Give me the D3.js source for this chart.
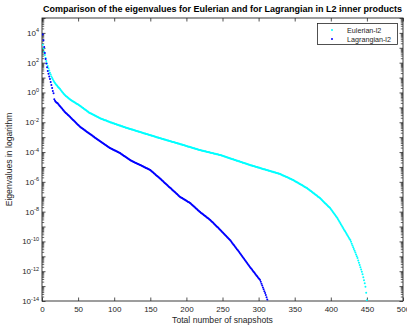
<!DOCTYPE html>
<html>
<head>
<meta charset="utf-8">
<script src="https://cdn.jsdelivr.net/npm/d3@7"></script>
<style>
  html, body { margin: 0; padding: 0; background: #fff; }
  svg { display: block; font-family: "Liberation Sans", Arial, Helvetica, sans-serif; }
</style>
</head>
<body>
<svg id="chart" width="407" height="325"></svg>
<script>
// log10 of the eigenvalues, index 1..N
const eulerianLog = [
  3.20,2.95,2.72,2.52,2.32,2.12,1.95,1.78,1.62,1.47,1.33,1.20,1.08,0.97,0.88,0.79,0.71,0.63,0.57,0.51,
  0.45,0.39,0.33,0.28,0.23,0.16,0.10,0.04,-0.02,-0.08,-0.13,-0.18,-0.23,-0.27,-0.31,-0.35,-0.39,-0.43,-0.47,-0.51,
  -0.54,-0.57,-0.60,-0.63,-0.66,-0.69,-0.72,-0.75,-0.78,-0.81,-0.84,-0.87,-0.91,-0.95,-0.98,-1.02,-1.05,-1.09,-1.13,-1.16,
  -1.20,-1.23,-1.27,-1.30,-1.34,-1.37,-1.40,-1.42,-1.45,-1.47,-1.50,-1.52,-1.55,-1.57,-1.60,-1.62,-1.65,-1.67,-1.70,-1.72,
  -1.74,-1.76,-1.78,-1.80,-1.82,-1.84,-1.86,-1.87,-1.89,-1.91,-1.93,-1.95,-1.97,-1.99,-2.01,-2.02,-2.04,-2.06,-2.07,-2.09,
  -2.11,-2.12,-2.14,-2.16,-2.17,-2.19,-2.21,-2.22,-2.24,-2.26,-2.27,-2.29,-2.31,-2.32,-2.34,-2.36,-2.37,-2.39,-2.40,-2.42,
  -2.43,-2.45,-2.46,-2.48,-2.49,-2.51,-2.52,-2.54,-2.55,-2.57,-2.58,-2.60,-2.61,-2.63,-2.64,-2.66,-2.67,-2.69,-2.70,-2.72,
  -2.73,-2.75,-2.76,-2.78,-2.79,-2.81,-2.82,-2.84,-2.85,-2.87,-2.88,-2.90,-2.91,-2.93,-2.94,-2.96,-2.97,-2.99,-3.00,-3.02,
  -3.03,-3.05,-3.06,-3.07,-3.09,-3.10,-3.12,-3.13,-3.15,-3.16,-3.17,-3.19,-3.20,-3.22,-3.23,-3.25,-3.26,-3.27,-3.29,-3.30,
  -3.32,-3.33,-3.35,-3.36,-3.37,-3.39,-3.40,-3.42,-3.43,-3.45,-3.46,-3.47,-3.49,-3.50,-3.52,-3.53,-3.55,-3.56,-3.58,-3.59,
  -3.61,-3.62,-3.64,-3.65,-3.66,-3.68,-3.69,-3.71,-3.72,-3.74,-3.75,-3.77,-3.78,-3.80,-3.81,-3.83,-3.84,-3.86,-3.87,-3.88,
  -3.89,-3.91,-3.92,-3.93,-3.94,-3.95,-3.97,-3.98,-3.99,-4.00,-4.01,-4.02,-4.04,-4.05,-4.06,-4.07,-4.08,-4.09,-4.11,-4.12,
  -4.13,-4.14,-4.15,-4.16,-4.18,-4.19,-4.20,-4.22,-4.23,-4.25,-4.27,-4.28,-4.30,-4.32,-4.33,-4.35,-4.36,-4.38,-4.40,-4.41,
  -4.43,-4.45,-4.46,-4.48,-4.49,-4.51,-4.53,-4.54,-4.56,-4.58,-4.59,-4.61,-4.62,-4.64,-4.66,-4.67,-4.69,-4.71,-4.72,-4.74,
  -4.75,-4.77,-4.79,-4.80,-4.82,-4.84,-4.85,-4.87,-4.88,-4.90,-4.91,-4.93,-4.94,-4.96,-4.97,-4.99,-5.00,-5.01,-5.03,-5.04,
  -5.06,-5.07,-5.09,-5.10,-5.12,-5.13,-5.15,-5.16,-5.17,-5.19,-5.20,-5.22,-5.23,-5.25,-5.26,-5.28,-5.29,-5.30,-5.32,-5.33,
  -5.35,-5.36,-5.38,-5.39,-5.41,-5.42,-5.43,-5.45,-5.46,-5.48,-5.50,-5.52,-5.55,-5.57,-5.59,-5.61,-5.64,-5.66,-5.68,-5.70,
  -5.72,-5.75,-5.77,-5.79,-5.81,-5.84,-5.86,-5.88,-5.91,-5.94,-5.97,-5.99,-6.02,-6.05,-6.08,-6.11,-6.14,-6.17,-6.19,-6.22,
  -6.25,-6.28,-6.31,-6.34,-6.36,-6.39,-6.42,-6.46,-6.49,-6.53,-6.57,-6.61,-6.64,-6.68,-6.72,-6.76,-6.79,-6.83,-6.87,-6.90,
  -6.94,-6.98,-7.02,-7.05,-7.09,-7.14,-7.19,-7.23,-7.28,-7.33,-7.38,-7.43,-7.47,-7.52,-7.57,-7.62,-7.67,-7.71,-7.76,-7.83,
  -7.89,-7.96,-8.03,-8.10,-8.16,-8.23,-8.30,-8.36,-8.43,-8.51,-8.60,-8.68,-8.77,-8.85,-8.93,-9.02,-9.10,-9.18,-9.26,-9.34,
  -9.42,-9.50,-9.59,-9.67,-9.75,-9.83,-9.91,-10.03,-10.15,-10.27,-10.39,-10.51,-10.63,-10.75,-10.87,-10.99,-11.12,-11.28,-11.43,-11.58,
  -11.74,-11.89,-12.04,-12.20,-12.40,-12.60,-12.80,-13.05,-13.45,-13.95
];

const lagrangianLog = [
  3.90,3.50,3.05,2.65,2.25,1.95,1.70,1.45,1.25,1.08,0.90,0.70,0.50,0.30,0.10,-0.05,-0.45,-0.55,-0.62,-0.67,
  -0.71,-0.74,-0.80,-0.87,-0.93,-0.98,-1.04,-1.10,-1.16,-1.21,-1.27,-1.32,-1.37,-1.42,-1.46,-1.51,-1.55,-1.60,-1.65,-1.70,
  -1.74,-1.79,-1.84,-1.89,-1.94,-1.98,-2.03,-2.08,-2.13,-2.18,-2.22,-2.27,-2.32,-2.35,-2.39,-2.42,-2.46,-2.49,-2.53,-2.56,
  -2.60,-2.63,-2.67,-2.70,-2.74,-2.77,-2.81,-2.84,-2.88,-2.91,-2.95,-2.98,-3.02,-3.05,-3.09,-3.12,-3.16,-3.19,-3.23,-3.26,
  -3.29,-3.33,-3.36,-3.39,-3.43,-3.46,-3.50,-3.53,-3.56,-3.60,-3.63,-3.66,-3.70,-3.73,-3.75,-3.78,-3.80,-3.83,-3.85,-3.88,
  -3.90,-3.92,-3.95,-3.97,-4.00,-4.02,-4.05,-4.07,-4.10,-4.14,-4.17,-4.20,-4.24,-4.27,-4.30,-4.34,-4.37,-4.40,-4.44,-4.47,
  -4.50,-4.54,-4.56,-4.59,-4.61,-4.63,-4.66,-4.68,-4.71,-4.73,-4.75,-4.78,-4.80,-4.82,-4.85,-4.87,-4.89,-4.92,-4.94,-4.97,
  -4.99,-5.02,-5.04,-5.07,-5.09,-5.11,-5.14,-5.16,-5.19,-5.21,-5.25,-5.29,-5.34,-5.38,-5.42,-5.46,-5.50,-5.55,-5.59,-5.63,
  -5.67,-5.71,-5.76,-5.80,-5.84,-5.89,-5.93,-5.98,-6.02,-6.07,-6.11,-6.16,-6.20,-6.25,-6.29,-6.34,-6.38,-6.42,-6.47,-6.51,
  -6.56,-6.60,-6.65,-6.69,-6.74,-6.78,-6.82,-6.87,-6.91,-6.96,-7.00,-7.03,-7.06,-7.09,-7.12,-7.15,-7.18,-7.21,-7.24,-7.27,
  -7.30,-7.33,-7.36,-7.39,-7.42,-7.46,-7.51,-7.55,-7.59,-7.64,-7.68,-7.72,-7.77,-7.81,-7.86,-7.90,-7.94,-7.99,-8.03,-8.07,
  -8.11,-8.14,-8.18,-8.22,-8.26,-8.29,-8.33,-8.37,-8.41,-8.45,-8.48,-8.52,-8.56,-8.61,-8.66,-8.70,-8.75,-8.80,-8.85,-8.90,
  -8.94,-8.99,-9.04,-9.09,-9.14,-9.18,-9.23,-9.28,-9.33,-9.38,-9.43,-9.48,-9.53,-9.58,-9.63,-9.68,-9.73,-9.78,-9.83,-9.88,
  -9.94,-10.01,-10.07,-10.14,-10.20,-10.26,-10.33,-10.39,-10.46,-10.52,-10.58,-10.65,-10.71,-10.78,-10.85,-10.91,-10.98,-11.05,-11.11,-11.18,
  -11.25,-11.32,-11.38,-11.45,-11.52,-11.58,-11.65,-11.72,-11.78,-11.84,-11.90,-11.97,-12.03,-12.09,-12.15,-12.22,-12.28,-12.34,-12.40,-12.47,
  -12.53,-12.59,-12.71,-12.84,-12.96,-13.09,-13.21,-13.34,-13.46,-13.60,-13.75,-13.90,-14.05
];

const xTicks = [0, 50, 100, 150, 200, 250, 300, 350, 400, 450, 500];
const yLabelExps = [4, 2, 0, -2, -4, -6, -8, -10, -12, -14];
const seriesNames = ["Eulerian-l2", "Lagrangian-l2"];
const seriesColors = ["#00ffff", "#0000ff"];

const titleText = "Comparison of the eigenvalues for Eulerian and for Lagrangian in L2 inner products";
const xLabelText = "Total number of snapshots";
const yLabelText = "Eigenvalues in logarithm";

const svg = d3.select("#chart");
const pLeft = 42, pRight = 403, pTop = 18, pBottom = 301;
const axisColor = "#262626";

const x = d3.scaleLinear().domain([0, 500]).range([pLeft, pRight]);
const y = d3.scaleLog().domain([1e-14, 1e5]).range([pBottom, pTop]);

svg.append("rect").attr("width", 407).attr("height", 325).attr("fill", "#fff");

svg.append("defs").append("clipPath").attr("id", "plotclip")
  .append("rect").attr("x", pLeft).attr("y", pTop).attr("width", pRight - pLeft).attr("height", pBottom - pTop);

// x axes (ticks inside)
svg.append("g")
  .attr("transform", `translate(0,${pBottom})`)
  .call(d3.axisBottom(x).tickValues(xTicks).tickSizeInner(-3.5).tickSizeOuter(0).tickPadding(5))
  .call(g => g.select(".domain").remove())
  .call(g => g.selectAll("line").attr("stroke", axisColor).attr("stroke-width", 0.8))
  .call(g => g.selectAll("text").attr("fill", axisColor).style("font-size", "8px").style("font-family", "Liberation Sans, Arial, sans-serif"));

svg.append("g")
  .attr("transform", `translate(0,${pTop})`)
  .call(d3.axisTop(x).tickValues(xTicks).tickSizeInner(-3.5).tickSizeOuter(0).tickFormat(""))
  .call(g => g.select(".domain").remove())
  .call(g => g.selectAll("line").attr("stroke", axisColor).attr("stroke-width", 0.8));

// y axes: decade ticks and log minor ticks
const majors = d3.range(-14, 6).map(e => Math.pow(10, e));
const minors = [];
d3.range(-14, 5).forEach(e => { for (let m = 2; m <= 9; m++) minors.push(m * Math.pow(10, e)); });

[[d3.axisRight, pLeft], [d3.axisLeft, pRight]].forEach(([axisFn, pos]) => {
  svg.append("g")
    .attr("transform", `translate(${pos},0)`)
    .call(axisFn(y).tickValues(majors).tickSizeInner(3.5).tickSizeOuter(0).tickFormat(""))
    .call(g => g.select(".domain").remove())
    .call(g => g.selectAll("line").attr("stroke", axisColor).attr("stroke-width", 0.8));
  svg.append("g")
    .attr("transform", `translate(${pos},0)`)
    .call(axisFn(y).tickValues(minors).tickSizeInner(2.2).tickSizeOuter(0).tickFormat(""))
    .call(g => g.select(".domain").remove())
    .call(g => g.selectAll("line").attr("stroke", axisColor).attr("stroke-width", 0.7));
});

// y tick labels 10^n
const yLab = svg.append("g").selectAll("text").data(yLabelExps).enter().append("text")
  .attr("x", pLeft - 3)
  .attr("y", d => y(Math.pow(10, d)) + 3)
  .attr("text-anchor", "end")
  .attr("fill", axisColor)
  .style("font-size", "8px");
yLab.append("tspan").text("10");
yLab.append("tspan").attr("dy", -3.5).style("font-size", "5.5px").text(d => String(d));

// frame
svg.append("rect")
  .attr("x", pLeft).attr("y", pTop).attr("width", pRight - pLeft).attr("height", pBottom - pTop)
  .attr("fill", "none").attr("stroke", axisColor).attr("stroke-width", 0.9);

// data points
const plot = svg.append("g").attr("clip-path", "url(#plotclip)");
[eulerianLog, lagrangianLog].forEach((arr, k) => {
  plot.append("g").selectAll("circle").data(arr).enter().append("circle")
    .attr("cx", (d, i) => x(i + 1))
    .attr("cy", d => y(Math.pow(10, d)))
    .attr("r", 1)
    .attr("fill", seriesColors[k]);
});

// title and axis labels
svg.append("text")
  .attr("x", (pLeft + pRight) / 2).attr("y", 12)
  .attr("text-anchor", "middle")
  .style("font-size", "9px").style("font-weight", "bold")
  .attr("fill", "#000")
  .text(titleText);

svg.append("text")
  .attr("x", (pLeft + pRight) / 2).attr("y", 323)
  .attr("text-anchor", "middle")
  .style("font-size", "8.6px")
  .attr("fill", axisColor)
  .text(xLabelText);

svg.append("text")
  .attr("transform", `translate(12,${(pTop + pBottom) / 2}) rotate(-90)`)
  .attr("text-anchor", "middle")
  .style("font-size", "8.6px")
  .attr("fill", axisColor)
  .text(yLabelText);

// legend
const lg = svg.append("g");
lg.append("rect").attr("x", 317.5).attr("y", 23.5).attr("width", 80).attr("height", 21)
  .attr("fill", "#fff").attr("stroke", axisColor).attr("stroke-width", 0.8);
seriesNames.forEach((name, k) => {
  lg.append("circle").attr("cx", 332).attr("cy", 30 + k * 9).attr("r", 1).attr("fill", seriesColors[k]);
  lg.append("text").attr("x", 347).attr("y", 32.5 + k * 9)
    .style("font-size", "7.2px").attr("fill", axisColor).text(name);
});
</script>
</body>
</html>
